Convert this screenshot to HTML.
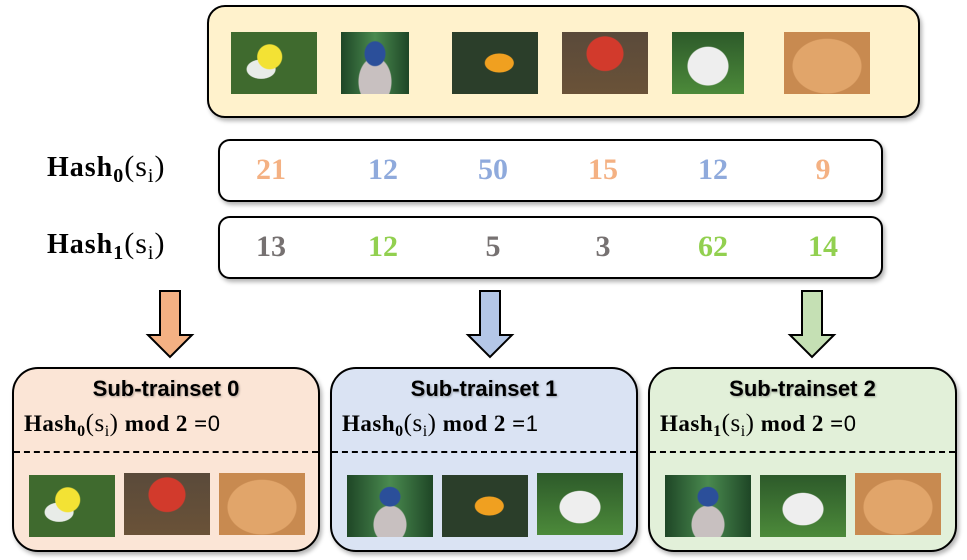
<!DOCTYPE html>
<html><head><style>
body{margin:0;width:967px;height:560px;background:#fff;position:relative;overflow:hidden;font-family:"Liberation Serif",serif}
.a{position:absolute}
.box{position:absolute;border:2.5px solid #000;box-sizing:border-box;box-shadow:2px 3px 4px rgba(0,0,0,.3)}
.img{position:absolute;width:86px;height:62px}
.num{position:absolute;font-weight:bold;font-size:30px;width:60px;text-align:center}
.lbl{position:absolute;font-weight:bold;font-size:28px;left:47px;letter-spacing:1px}
.lbl sub{font-size:20px;vertical-align:-6px}
.lbl .p{font-weight:normal;font-size:30px}
.t{position:absolute;font-family:"Liberation Sans",sans-serif;font-weight:bold;font-size:22px;width:100%;text-align:center;top:7px;text-shadow:1px 1px 2px rgba(0,0,0,.3)}
.h{position:absolute;left:10px;top:41px;font-size:23px;font-weight:bold;letter-spacing:.5px;white-space:nowrap}
.h sub{font-size:16px;vertical-align:-5px}
.h .p{font-weight:normal;font-size:25px}
.h .s{font-weight:normal;font-family:"Liberation Sans",sans-serif;font-size:22px}
.d{position:absolute;left:0;right:0;top:82px;border-top:2px dashed #000}
.bf{background:radial-gradient(circle at 45% 40%,#f3e234 0 12px,transparent 13px),radial-gradient(ellipse at 35% 60%,#e8ece8 0 14px,transparent 15px),#3f6a2e}
.bd{background:radial-gradient(ellipse at 50% 35%,#2b4f9a 0 10px,transparent 11px),radial-gradient(ellipse at 50% 80%,#c8c0c0 0 16px,transparent 17px),linear-gradient(90deg,#1e4626,#4a8a4f,#1e4626)}
.fi{background:radial-gradient(ellipse at 55% 50%,#f0a020 0 14px,transparent 15px),#2b3e2a}
.mu{background:radial-gradient(ellipse at 50% 35%,#d23a2c 0 18px,transparent 19px),linear-gradient(#5a4a3a,#6a5238)}
.dg{background:radial-gradient(ellipse at 50% 55%,#eeeeee 0 20px,transparent 21px),linear-gradient(#2d5a2a,#4c8a3a)}
.ct{background:radial-gradient(ellipse at 50% 55%,#e1a56a 0 34px,transparent 35px),#c88a50}
</style></head><body>
<div class="box" style="left:207px;top:5px;width:713px;height:113px;background:#fff2cc;border-radius:18px"></div>
<div class="img bf" style="left:231px;top:32px"></div>
<div class="img bd" style="left:341px;top:32px;width:68px"></div>
<div class="img fi" style="left:452px;top:32px"></div>
<div class="img mu" style="left:562px;top:32px"></div>
<div class="img dg" style="left:672px;top:32px;width:72px"></div>
<div class="img ct" style="left:784px;top:32px"></div>

<div class="lbl" style="top:150px">Hash<sub>0</sub><span class="p">(s<sub style="font-weight:normal">i</sub>)</span></div>
<div class="lbl" style="top:227px">Hash<sub>1</sub><span class="p">(s<sub style="font-weight:normal">i</sub>)</span></div>
<div class="box" style="left:218px;top:139px;width:665px;height:63px;border-radius:12px;background:#fff"></div>
<div class="box" style="left:218px;top:216px;width:665px;height:63px;border-radius:12px;background:#fff"></div>
<div class="num" style="left:241px;top:153px;color:#f4b183">21</div>
<div class="num" style="left:353px;top:153px;color:#8faadc">12</div>
<div class="num" style="left:463px;top:153px;color:#8faadc">50</div>
<div class="num" style="left:573px;top:153px;color:#f4b183">15</div>
<div class="num" style="left:683px;top:153px;color:#8faadc">12</div>
<div class="num" style="left:793px;top:153px;color:#f4b183">9</div>
<div class="num" style="left:241px;top:230px;color:#767171">13</div>
<div class="num" style="left:353px;top:230px;color:#92d050">12</div>
<div class="num" style="left:463px;top:230px;color:#767171">5</div>
<div class="num" style="left:573px;top:230px;color:#767171">3</div>
<div class="num" style="left:683px;top:230px;color:#92d050">62</div>
<div class="num" style="left:793px;top:230px;color:#92d050">14</div>

<svg class="a" style="left:0;top:0" width="967" height="560">
<g stroke="#000" stroke-width="2">
<path d="M160 291h20v44h12l-22 22l-22-22h12z" fill="#f4b183"/>
<path d="M480 291h20v44h12l-22 22l-22-22h12z" fill="#b4c7e7"/>
<path d="M802 291h20v44h12l-22 22l-22-22h12z" fill="#c5e0b4"/>
</g></svg>

<div class="box" style="left:12px;top:367px;width:308px;height:185px;background:#fbe5d6;border-radius:26px">
<div class="t">Sub-trainset 0</div>
<div class="h">Hash<sub>0</sub><span class="p">(s<sub>i</sub>)</span> mod 2 =<span class="s">0</span></div>
<div class="d"></div>
<div class="img bf" style="left:15px;top:106px"></div>
<div class="img mu" style="left:110px;top:104px"></div>
<div class="img ct" style="left:205px;top:104px"></div>
</div>
<div class="box" style="left:330px;top:367px;width:308px;height:185px;background:#dae3f3;border-radius:26px">
<div class="t">Sub-trainset 1</div>
<div class="h">Hash<sub>0</sub><span class="p">(s<sub>i</sub>)</span> mod 2 =<span class="s">1</span></div>
<div class="d"></div>
<div class="img bd" style="left:15px;top:106px"></div>
<div class="img fi" style="left:110px;top:106px"></div>
<div class="img dg" style="left:205px;top:104px"></div>
</div>
<div class="box" style="left:648px;top:367px;width:309px;height:185px;background:#e2f0d9;border-radius:26px">
<div class="t">Sub-trainset 2</div>
<div class="h">Hash<sub>1</sub><span class="p">(s<sub>i</sub>)</span> mod 2 =<span class="s">0</span></div>
<div class="d"></div>
<div class="img bd" style="left:15px;top:106px"></div>
<div class="img dg" style="left:110px;top:106px"></div>
<div class="img ct" style="left:205px;top:104px"></div>
</div>
</body></html>
